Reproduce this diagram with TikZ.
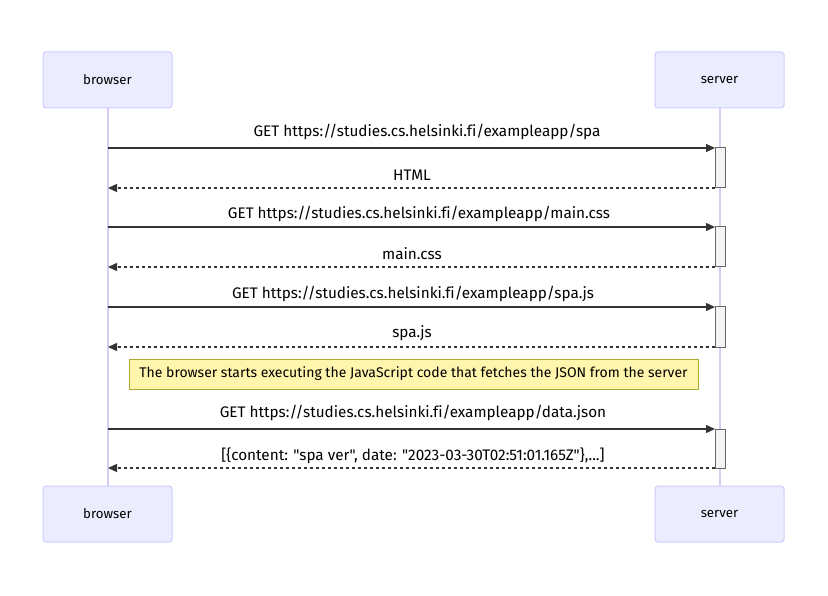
\documentclass[tikz,border=0pt]{standalone}
\usepackage{fontspec}
\setmainfont[Ligatures={NoCommon,TeXOff}]{Fira Sans}
\usetikzlibrary{arrows.meta}
\definecolor{actfill}{HTML}{ECECFF}
\definecolor{actdraw}{HTML}{CCCCFF}
\definecolor{lifeline}{HTML}{D8CCF4}
\definecolor{msg}{HTML}{333333}
\definecolor{notefill}{HTML}{FFF5AD}
\definecolor{notedraw}{HTML}{AAAA33}
\definecolor{actvfill}{HTML}{F4F4F4}
\definecolor{actvdraw}{HTML}{666666}
\begin{document}
\begin{tikzpicture}[x=1pt,y=-1pt,
  every node/.style={font=\fontsize{15.3}{17}\selectfont, text=black},
  actor/.style={draw=actdraw, fill=actfill, rounded corners=3pt, line width=1pt, minimum width=129pt, minimum height=56pt, inner sep=0pt, font=\fontsize{13.3}{16}\selectfont},
  life/.style={draw=lifeline, line width=1.5pt},
  req/.style={draw=msg, line width=1.3pt, -{Triangle[length=9pt,width=8pt]}},
  resp/.style={draw=msg, line width=1.3pt, dash pattern=on 3pt off 3pt, -{Triangle[length=9pt,width=8pt]}},
  actv/.style={draw=actvdraw, fill=actvfill, line width=1pt, minimum width=10pt, inner sep=0pt},
  lbl/.style={inner sep=0pt},
  notebox/.style={draw=notedraw, fill=notefill, line width=1pt, minimum width=569pt, minimum height=30pt, inner sep=0pt, font=\fontsize{14}{16}\selectfont}
]
\useasboundingbox (0,0) rectangle (828,596);
\fill[white] (0,0) rectangle (828,596);
% lifelines
\coordinate (bt) at (108,108); \coordinate (bb) at (108,486);
\coordinate (st) at (720,108); \coordinate (sb) at (720,486);
\draw[life] (bt) -- (bb);
\draw[life] (st) -- (sb);
% actors
\node[actor] (b1) at (107.5,80) {browser};
\node[actor] (s1) at (719.5,80) {server};
\node[actor] (b2) at (107.5,514) {browser};
\node[actor] (s2) at (719.5,514) {server};
% activations
\node[actv, minimum height=40pt] (a1) at (720,168) {};
\node[actv, minimum height=40pt] (a2) at (720,247) {};
\node[actv, minimum height=40pt] (a3) at (720,327) {};
\node[actv, minimum height=39pt] (a4) at (720,448.5) {};
% message endpoints
\foreach \n/\y in {1/148,2/188,3/227,4/267,5/307,6/347,7/429,8/468}{
  \coordinate (bl\n) at (108,\y);
  \coordinate (sl\n) at (715,\y);
}
\draw[req] (bl1) -- (sl1);
\draw[resp] (sl2) -- (bl2);
\draw[req] (bl3) -- (sl3);
\draw[resp] (sl4) -- (bl4);
\draw[req] (bl5) -- (sl5);
\draw[resp] (sl6) -- (bl6);
\draw[req] (bl7) -- (sl7);
\draw[resp] (sl8) -- (bl8);
% labels
\node[lbl] (t1) at (427,132) {GET https://studies.cs.helsinki.fi/exampleapp/spa};
\node[lbl] (t2) at (412,175) {HTML};
\node[lbl] (t3) at (419,214) {GET https://studies.cs.helsinki.fi/exampleapp/main.css};
\node[lbl] (t4) at (412,254) {main.css};
\node[lbl] (t5) at (413,294) {GET https://studies.cs.helsinki.fi/exampleapp/spa.js};
\node[lbl] (t6) at (412,333) {spa.js};
\node[lbl] (t7) at (413,413) {GET https://studies.cs.helsinki.fi/exampleapp/data.json};
\node[lbl] (t8) at (413,456) {[\{content: "spa ver", date: "2023-03-30T02:51:01.165Z"\},...]};
% note
\node[notebox] (note) at (413.5,374) {The browser starts executing the JavaScript code that fetches the JSON from the server};
\end{tikzpicture}
\end{document}
